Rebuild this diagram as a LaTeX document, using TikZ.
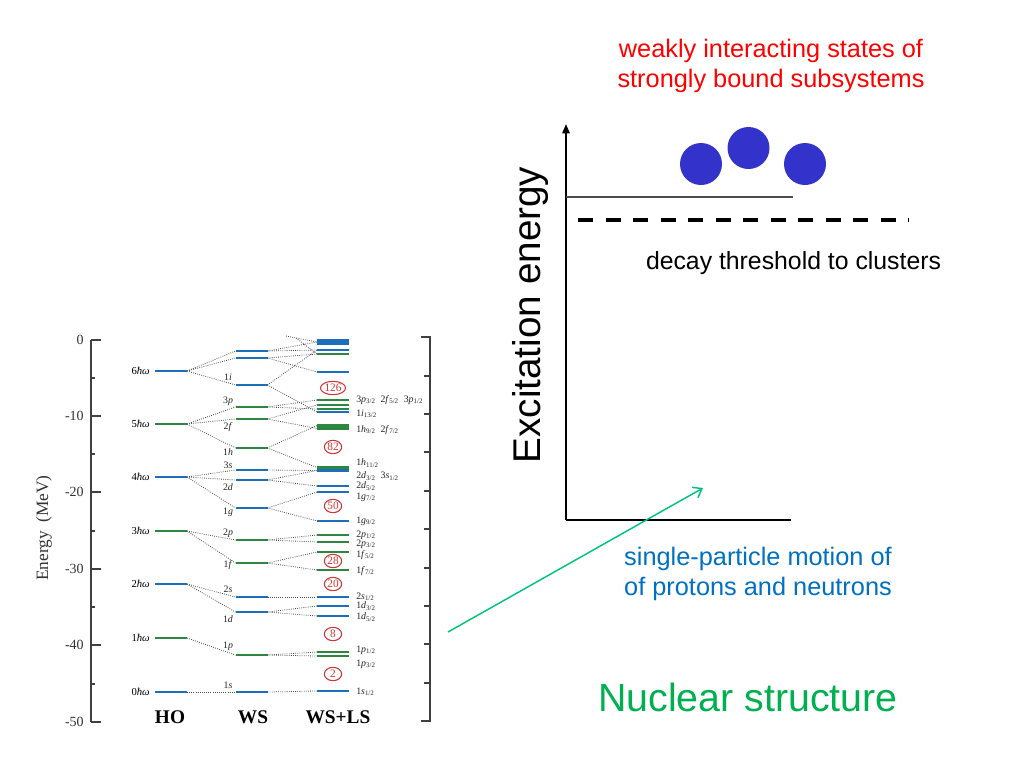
\documentclass[tikz,border=0pt]{standalone}
\usepackage{fontspec}
\setmainfont{Liberation Sans}
\newfontfamily\tms{Liberation Serif}
\usetikzlibrary{shapes.geometric,arrows.meta}
\definecolor{lvblue}{RGB}{30,110,190}
\definecolor{lvgreen}{RGB}{45,135,65}
\definecolor{magred}{RGB}{205,55,55}
\definecolor{spblue}{RGB}{0,112,192}
\definecolor{nsgreen}{RGB}{0,176,80}
\definecolor{arrgreen}{RGB}{0,195,125}
\definecolor{ballblue}{RGB}{51,51,204}
\newcommand\orbl[3]{#1\textit{#2}\textsubscript{#3}}
\begin{document}
\begin{tikzpicture}[x=0.75pt,y=-0.75pt,
  lvl/.style={rectangle, inner sep=0pt, outer sep=0pt, minimum width=24pt, minimum height=2.2pt},
  bl/.style={lvl, fill=lvblue},
  gr/.style={lvl, fill=lvgreen},
  conn/.style={densely dotted, draw=black!70, line width=0.6pt},
  magic/.style={ellipse, draw=magred, line width=0.8pt, text=magred, inner sep=0.3pt, minimum height=10pt, minimum width=13pt, font=\tms\fontsize{8.5}{8.5}\selectfont},
  sub/.style={anchor=west, inner sep=0pt, font=\tms\fontsize{7.4}{7.4}\selectfont, text=black!85},
  wslab/.style={inner sep=0pt, font=\tms\fontsize{7.4}{7.4}\selectfont, text=black!85},
  hol/.style={anchor=east, inner sep=0pt, font=\tms\fontsize{8}{8}\selectfont},
  num/.style={anchor=east, inner sep=0pt, font=\tms\fontsize{10.5}{10.5}\selectfont, text=black!80},
  ttl/.style={inner sep=0pt, font=\tms\bfseries\fontsize{14.5}{14.5}\selectfont},
  axl/.style={draw=black!75, line width=0.9pt},
  ball/.style={circle, fill=ballblue, minimum size=31.5pt, inner sep=0pt}
]
\useasboundingbox (0,0) rectangle (1024,768);

% ---------------- left energy axis ----------------
\coordinate (eaT) at (91,340);
\coordinate (eaB) at (91,722);
\draw[axl] (eaT) -- (eaB);
\foreach \yy/\lab in {340/0,416/-10,492/-20,569/-30,645/-40,722/-50}{
  \draw[axl] (91,\yy) -- (101,\yy);
  \node[num] at (84,\yy) {\lab};
}
\foreach \yy in {378,454,531,607,684}{ \draw[axl] (91,\yy) -- (95,\yy); }
\node[rotate=90, inner sep=0pt, font=\tms\fontsize{13}{13}\selectfont, text=black!80] (elab) at (44,528) {Energy\enspace(MeV)};

% right bracket axis
\draw[axl] (421,337) -- (430,337) -- (430,721) -- (421,721);
\foreach \yy in {376,414,452,491,529,568,606,644,683}{ \draw[axl] (430,\yy) -- (424,\yy); }

% ---------------- HO levels ----------------
\node[bl] (ho6) at (171,371) {};
\node[gr] (ho5) at (171,424) {};
\node[bl] (ho4) at (171,477) {};
\node[gr] (ho3) at (171,531) {};
\node[bl] (ho2) at (171,584) {};
\node[gr] (ho1) at (171,638) {};
\node[bl] (ho0) at (171,692) {};
\node[hol] (hl6) at (150,371) {6\textit{ħω}};
\node[hol] (hl5) at (150,424) {5\textit{ħω}};
\node[hol] (hl4) at (150,477) {4\textit{ħω}};
\node[hol] (hl3) at (150,531) {3\textit{ħω}};
\node[hol] (hl2) at (150,584) {2\textit{ħω}};
\node[hol] (hl1) at (150,638) {1\textit{ħω}};
\node[hol] (hl0) at (150,692) {0\textit{ħω}};

% ---------------- WS levels ----------------
\node[bl] (wsa) at (251.5,351) {};
\node[bl] (wsb) at (251.5,358) {};
\node[bl] (ws1i) at (251.5,385) {};
\node[gr] (ws3p) at (251.5,407) {};
\node[gr] (ws2f) at (251.5,419) {};
\node[gr] (ws1h) at (251.5,448) {};
\node[bl] (ws3s) at (251.5,470) {};
\node[bl] (ws2d) at (251.5,480) {};
\node[bl] (ws1g) at (251.5,508) {};
\node[gr] (ws2p) at (251.5,540) {};
\node[gr] (ws1f) at (251.5,563) {};
\node[bl] (ws2s) at (251.5,597) {};
\node[bl] (ws1d) at (251.5,612) {};
\node[gr] (ws1p) at (251.5,655) {};
\node[bl] (ws1s) at (251.5,692) {};
\node[wslab] (wl1i) at (228,377) {1\textit{i}};
\node[wslab] (wl3p) at (228,401) {3\textit{p}};
\node[wslab] (wl2f) at (228,427) {2\textit{f}};
\node[wslab] (wl1h) at (228,452) {1\textit{h}};
\node[wslab] (wl3s) at (228,465) {3\textit{s}};
\node[wslab] (wl2d) at (228,487) {2\textit{d}};
\node[wslab] (wl1g) at (228,512) {1\textit{g}};
\node[wslab] (wl2p) at (228,533) {2\textit{p}};
\node[wslab] (wl1f) at (228,565) {1\textit{f}};
\node[wslab] (wl2s) at (228,589) {2\textit{s}};
\node[wslab] (wl1d) at (228,619) {1\textit{d}};
\node[wslab] (wl1p) at (228,646) {1\textit{p}};
\node[wslab] (wl1s) at (228,685) {1\textit{s}};

% ---------------- WS+LS levels ----------------
\node[bl, minimum height=3.8pt] (la) at (333,342) {};
\node[bl] (lb) at (333,350) {};
\node[gr] (lc) at (333,354) {};
\node[bl] (ld) at (333,372) {};
\node[gr] (le) at (333,400) {};
\node[gr] (lf) at (333,405) {};
\node[gr] (lg) at (333,409) {};
\node[bl] (lg2) at (333,412) {};
\node[gr] (lh1) at (333,425.5) {};
\node[gr] (lh2) at (333,428.5) {};
\node[gr] (li1) at (333,467.5) {};
\node[bl] (li2) at (333,470.5) {};
\node[bl] (lj) at (333,486) {};
\node[bl] (lk) at (333,492) {};
\node[bl] (ll) at (333,521) {};
\node[gr] (lm) at (333,535) {};
\node[gr] (ln) at (333,542) {};
\node[gr] (lo) at (333,552) {};
\node[gr] (lp) at (333,570) {};
\node[bl] (lq) at (333,597) {};
\node[bl] (lr) at (333,606) {};
\node[bl] (ls) at (333,616) {};
\node[gr] (lt) at (333,652) {};
\node[gr] (lu) at (333,656) {};
\node[bl] (lv) at (333,691) {};

\node[magic] (m126) at (333,388) {126};
\node[magic] (m82) at (333,447) {82};
\node[magic] (m50) at (333,506) {50};
\node[magic] (m28) at (333,561) {28};
\node[magic] (m20) at (333,584) {20};
\node[magic] (m8) at (333,634) {8};
\node[magic] (m2) at (333,674) {2};

\node[sub] (s1) at (356,400) {\orbl{3}{p}{3/2}\enspace\orbl{2}{f}{5/2}\enspace\orbl{3}{p}{1/2}};
\node[sub] (s2) at (356,414) {\orbl{1}{i}{13/2}};
\node[sub] (s3) at (356,430) {\orbl{1}{h}{9/2}\enspace\orbl{2}{f}{7/2}};
\node[sub] (s4) at (356,463) {\orbl{1}{h}{11/2}};
\node[sub] (s5) at (356,476) {\orbl{2}{d}{3/2}\enspace\orbl{3}{s}{1/2}};
\node[sub] (s6) at (356,486) {\orbl{2}{d}{5/2}};
\node[sub] (s7) at (356,497) {\orbl{1}{g}{7/2}};
\node[sub] (s8) at (356,521) {\orbl{1}{g}{9/2}};
\node[sub] (s9) at (356,535) {\orbl{2}{p}{1/2}};
\node[sub] (s10) at (356,544) {\orbl{2}{p}{3/2}};
\node[sub] (s11) at (356,555) {\orbl{1}{f}{5/2}};
\node[sub] (s12) at (356,571) {\orbl{1}{f}{7/2}};
\node[sub] (s13) at (356,597) {\orbl{2}{s}{1/2}};
\node[sub] (s14) at (356,606) {\orbl{1}{d}{3/2}};
\node[sub] (s15) at (356,617) {\orbl{1}{d}{5/2}};
\node[sub] (s16) at (356,650) {\orbl{1}{p}{1/2}};
\node[sub] (s17) at (356,664) {\orbl{1}{p}{3/2}};
\node[sub] (s18) at (356,692) {\orbl{1}{s}{1/2}};

\node[ttl] (tHO) at (170,717) {HO};
\node[ttl] (tWS) at (253,717) {WS};
\node[ttl] (tWL) at (338,717) {WS+LS};

% ---------------- connectors HO -> WS ----------------
\foreach \a/\b in {ho6/wsa,ho6/wsb,ho6/ws1i,ho5/ws3p,ho5/ws2f,ho5/ws1h,
  ho4/ws3s,ho4/ws2d,ho4/ws1g,ho3/ws2p,ho3/ws1f,ho2/ws2s,ho2/ws1d,ho1/ws1p,ho0/ws1s}
  \draw[conn] (\a.east) -- (\b.west);
% ---------------- connectors WS -> WS+LS ----------------
\foreach \a/\b in {wsa/la,wsa/lb,wsb/lc,wsb/ld,ws1i/lb,ws1i/lg2,ws3p/le,ws3p/lg,
  ws2f/lf,ws2f/lh2,ws1h/lh1,ws1h/li1,ws3s/li2,ws2d/li2,ws2d/lj,ws1g/lk,ws1g/ll,
  ws2p/lm,ws2p/ln,ws1f/lo,ws1f/lp,ws2s/lq,ws1d/lr,ws1d/ls,ws1p/lt,ws1p/lu,ws1s/lv}
  \draw[conn] (\a.east) -- (\b.west);
\coordinate (off1) at (286,336);
\coordinate (off2) at (296,338);
\draw[conn] (off1) -- (la.west);
\draw[conn] (off2) -- (lc.west);

% ---------------- right schematic ----------------
\coordinate (ax0) at (566,520);
\coordinate (axT) at (566,124);
\coordinate (axR) at (791,520);
\draw[line width=1.5pt, -{Triangle[length=7pt,width=5.5pt]}] (ax0) -- (axT);
\draw[line width=1.5pt] (ax0) -- (axR);
\coordinate (bL) at (566,197);
\coordinate (bR) at (793,197);
\draw[line width=0.9pt, black!70] (bL) -- (bR);
\coordinate (dL) at (578,220);
\coordinate (dR) at (909,220);
\draw[line width=3pt, dash pattern=on 11.25pt off 9.4pt] (dL) -- (dR);

\node[ball] (c1) at (701,164) {};
\node[ball] (c2) at (748.5,148) {};
\node[ball] (c3) at (805,164) {};

\node[font=\fontsize{19}{22.5}\selectfont, text=red, align=center, inner sep=0pt] (ttop) at (771,66) {weakly interacting states of\\strongly bound subsystems};
\node[font=\fontsize{18.6}{18.6}\selectfont, inner sep=0pt] (tthr) at (793.5,263) {decay threshold to clusters};
\node[font=\fontsize{19}{22.5}\selectfont, text=spblue, align=center, inner sep=0pt] (tsp) at (758,574) {single-particle motion of\\of protons and neutrons};
\node[font=\fontsize{29.5}{29.5}\selectfont, text=nsgreen, inner sep=0pt] (tns) at (748,697) {Nuclear structure};
\node[rotate=90, font=\fontsize{29}{29}\selectfont, inner sep=0pt] (tex) at (530,315) {Excitation energy};

\coordinate (gS) at (448,632);
\coordinate (gE) at (703,488);
\draw[arrgreen, line width=1.1pt, -{Straight Barb[length=6pt,width=9pt]}] (gS) -- (gE);
\end{tikzpicture}
\end{document}
